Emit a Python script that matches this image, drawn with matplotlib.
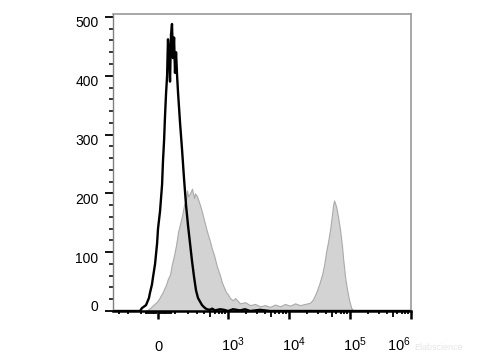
import matplotlib
matplotlib.use('Agg')
import matplotlib.pyplot as plt
import matplotlib.transforms as mtransforms
import numpy as np

plt.rcParams['font.family'] = ['Liberation Sans', 'DejaVu Sans']
plt.rcParams['mathtext.fontset'] = 'custom'
plt.rcParams['mathtext.rm'] = 'Liberation Sans'

# unstained control (black outline)
ctrl_x = [-378, -105, -92, -67, -50, -44, -33, -27, -16, -5,
          0, 11, 22, 27, 33, 38, 44, 50, 55, 61,
          67, 73, 79, 85, 92, 98, 105, 112, 119, 126,
          133, 148, 164, 181, 199, 218, 238, 260, 283, 308,
          334, 363, 409, 443, 499, 540, 606, 736, 858, 999,
          1208, 1576, 1905, 2302, 3359, 4901, 1e6]
ctrl_y = [0, 0, 5, 10, 22, 31, 45, 58, 80, 115,
          140, 170, 215, 255, 290, 330, 370, 400, 462, 440,
          390, 470, 488, 430, 465, 405, 440, 400, 370, 345,
          320, 275, 225, 180, 145, 115, 85, 58, 35, 22,
          16, 10, 5, 3, 2, 4, 1, 3, 2, 0,
          3, 1, 3, 0, 2, 0, 0]

# stained sample (gray filled)
stain_x = [-67, -44, -27, -5, 11, 27, 44, 55, 67, 79,
           92, 105, 119, 133, 148, 164, 181, 190, 199, 218,
           238, 260, 271, 295, 334, 363, 409, 443, 499, 540,
           583, 655, 736, 794, 858, 925, 999, 1078, 1208, 1304,
           1576, 1905, 2302, 2781, 3359, 4058, 4901, 5920, 7150, 8637,
           10432, 12600, 15215, 18376, 22194, 24853, 27830, 31174, 34906, 37640,
           40590, 43770, 47210, 50910, 52870, 54900, 59210, 63860, 68870, 74270,
           77130, 83190, 89710, 96750, 104350, 112540]
stain_y = [0, 5, 10, 16, 24, 33, 45, 55, 62, 80,
           95, 112, 135, 148, 162, 180, 190, 205, 195, 200,
           208, 192, 200, 195, 180, 168, 148, 135, 118, 105,
           95, 75, 60, 48, 40, 32, 28, 22, 18, 22,
           13, 15, 10, 12, 8, 10, 7, 11, 8, 12,
           9, 13, 10, 12, 14, 20, 31, 45, 62, 78,
           100, 118, 138, 165, 180, 188, 178, 160, 138, 109,
           90, 58, 36, 19, 6, 0]

x_major = [0, 1e3, 1e4, 1e5, 1e6]
x_labels = ['0', r'$\mathregular{10^3}$', r'$\mathregular{10^4}$',
            r'$\mathregular{10^5}$', r'$\mathregular{10^6}$']

# biexponential-like display axis
W = 143
def fwd(x):
    return np.arcsinh(np.asarray(x, dtype=float) / W)
def inv(y):
    return W * np.sinh(y)

fig = plt.figure(figsize=(4.8, 3.6), dpi=100)
ax = fig.add_axes([0.2354, 0.1361, 0.6208, 0.8250])
ax.set_xscale('function', functions=(fwd, inv))

ax.fill_between(stain_x, stain_y, 0, facecolor='#d3d3d3', edgecolor='#aaaaaa', linewidth=0.8)
ax.plot(ctrl_x, ctrl_y, color='black', linewidth=1.7)

ax.set_xlim(-378, 1e6)
ax.set_ylim(0, 505)

x_minor = [-300, -200, -100, -70, -60, -50, -40, -30, -20, -10,
           10, 20, 30, 40, 50, 60, 70]
for d in [100, 1000, 10000, 100000]:
    x_minor += [m * d for m in range(1, 10) if m > 1 or d == 100]
x_minor = sorted(x_minor)
ax.set_xticks(x_major)
ax.set_xticklabels(x_labels)
ax.set_xticks(x_minor, minor=True)
ax.set_yticks(range(0, 501, 100))
ax.set_yticks(range(0, 501, 20), minor=True)

ax.tick_params(axis='x', which='major', direction='out', length=6, width=1.8, pad=23, labelsize=10.5)
ax.tick_params(axis='x', which='minor', direction='out', length=2.5, width=1.3)
ax.tick_params(axis='y', which='major', direction='out', length=5.5, width=1.3, pad=5, labelsize=10)
ax.tick_params(axis='y', which='minor', direction='out', length=2.7, width=1.1)

for t, loc in zip(ax.xaxis.get_minor_ticks(len(x_minor)), x_minor):
    if str(int(abs(loc)))[0] == '5' and abs(loc) >= 500:
        t.tick1line.set_markersize(4.2)

# x labels: baseline aligned, "10" centred on its tick
for i, t in enumerate(ax.xaxis.get_major_ticks(len(x_major))):
    t.label1.set_verticalalignment('baseline')
    if 1 <= i <= 3:
        t.label1.set_horizontalalignment('left')
        off = mtransforms.ScaledTranslation(-7 / fig.dpi, 0, fig.dpi_scale_trans)
        t.label1.set_transform(t.label1.get_transform() + off)
    elif i == 4:
        t.label1.set_horizontalalignment('right')

# y labels sit a little below their ticks, "0" lifted above the axis
for i, t in enumerate(ax.yaxis.get_major_ticks(6)):
    dy = 6 if i == 0 else -5
    off = mtransforms.ScaledTranslation(0, dy / fig.dpi, fig.dpi_scale_trans)
    t.label1.set_transform(t.label1.get_transform() + off)

ax.spines['bottom'].set_linewidth(1.8)
ax.spines['bottom'].set_color('black')
ax.spines['left'].set_linewidth(1.0)
ax.spines['left'].set_color('#808080')
for s in ['top', 'right']:
    ax.spines[s].set_linewidth(1.2)
    ax.spines[s].set_color('#9a9a9a')

fig.text(0.862, 0.036, 'Elabscience', fontsize=6.5, color='#e6e6e6', va='center', zorder=0)

fig.savefig('out.png', dpi=100)
